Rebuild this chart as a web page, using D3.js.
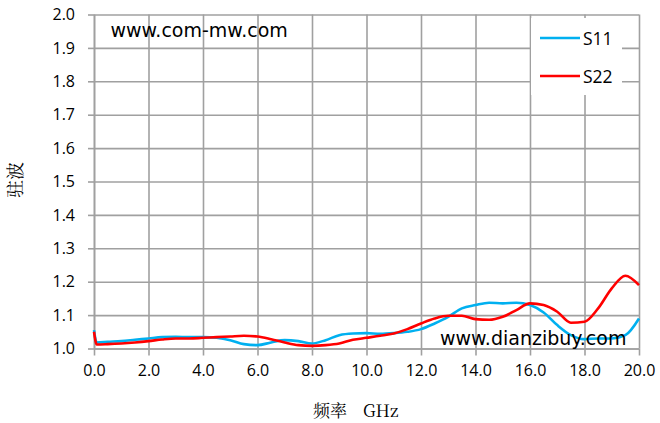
<!DOCTYPE html>
<html>
<head>
<meta charset="utf-8">
<script src="https://cdn.jsdelivr.net/npm/d3@7/dist/d3.min.js"></script>
<style>
  body { margin: 0; background: #fff; }
  svg text { font-family: "Open Sans", sans-serif; }
</style>
</head>
<body>
<svg width="660" height="423"></svg>
<script>
// 驻波 vs 频率
var freq = [0, 0.1, 0.5, 1, 1.5, 2, 2.5, 3, 3.5, 4, 4.5, 5, 5.5, 6, 6.5, 7, 7.5, 8, 8.5, 9, 9.5, 10,
            10.5, 11, 11.5, 12, 12.5, 13, 13.5, 14, 14.5, 15, 15.5, 16, 16.5, 17, 17.5, 18, 18.5, 19, 19.5, 20];
var s11 = [1.055, 1.018, 1.02, 1.022, 1.026, 1.03, 1.034, 1.035, 1.034, 1.034, 1.032, 1.025, 1.013, 1.01, 1.018, 1.025, 1.022, 1.015, 1.025, 1.04, 1.045, 1.046,
           1.044, 1.046, 1.05, 1.058, 1.075, 1.095, 1.12, 1.13, 1.137, 1.135, 1.137, 1.13, 1.108, 1.07, 1.04, 1.028, 1.03, 1.03, 1.04, 1.09];
var s22 = [1.05, 1.012, 1.013, 1.015, 1.018, 1.022, 1.027, 1.03, 1.03, 1.032, 1.034, 1.036, 1.038, 1.036, 1.028, 1.018, 1.01, 1.008, 1.01, 1.015, 1.026, 1.032,
           1.038, 1.045, 1.058, 1.075, 1.09, 1.098, 1.098, 1.088, 1.086, 1.095, 1.115, 1.135, 1.13, 1.11, 1.077, 1.08, 1.12, 1.18, 1.218, 1.19];
var seriesNames = ["S11", "S22"];
var seriesColors = ["#00b0f0", "#ff0000"];
var xTicks = d3.range(0, 20.01, 2);
var yTicks = d3.range(1.0, 2.001, 0.1);

var svg = d3.select("svg"),
    margin = {top: 14.5, right: 21, bottom: 74.5, left: 94},
    width = +svg.attr("width") - margin.left - margin.right,
    height = +svg.attr("height") - margin.top - margin.bottom;

var g = svg.append("g").attr("transform", "translate(" + margin.left + "," + margin.top + ")");

var x = d3.scaleLinear().domain([0, 20]).range([0, width]);
var y = d3.scaleLinear().domain([1, 2]).range([height, 0]);

var gridColor = "#a0a0a0";

// grid lines
g.append("g")
    .attr("transform", "translate(0," + height + ")")
    .call(d3.axisBottom(x).tickValues(xTicks).tickSize(-height).tickFormat(""))
    .call(function (a) { a.select(".domain").remove(); });
g.append("g")
    .call(d3.axisLeft(y).tickValues(yTicks).tickSize(-width).tickFormat(""))
    .call(function (a) { a.select(".domain").remove(); });

// axes with outer ticks
g.append("g")
    .attr("class", "xaxis")
    .attr("transform", "translate(0," + height + ")")
    .call(d3.axisBottom(x).tickValues(xTicks).tickSize(7).tickSizeOuter(0).tickPadding(9).tickFormat(d3.format(".1f")));
g.append("g")
    .attr("class", "yaxis")
    .call(d3.axisLeft(y).tickValues(yTicks).tickSize(6).tickSizeOuter(0).tickPadding(13).tickFormat(d3.format(".1f")));

g.selectAll(".tick line, .domain")
    .attr("stroke", gridColor)
    .attr("stroke-width", 1.6);
g.selectAll(".xaxis text, .yaxis text")
    .attr("fill", "#000")
    .style("font-size", "16px");

// watermarks
g.append("text")
    .attr("x", 110.5 - margin.left).attr("y", 37 - margin.top)
    .style("font-family", "'DejaVu Sans', sans-serif")
    .style("font-size", "19px")
    .text("www.com-mw.com");

// lines
var line = d3.line()
    .x(function (d, i) { return x(freq[i]); })
    .y(function (d) { return y(d); })
    .curve(d3.curveMonotoneX);

[s11, s22].forEach(function (vals, k) {
    g.append("path")
        .datum(vals)
        .attr("fill", "none")
        .attr("stroke", seriesColors[k])
        .attr("stroke-width", 2.6)
        .attr("stroke-linejoin", "round")
        .attr("d", line);
});

g.append("text")
    .attr("x", 440 - margin.left).attr("y", 345 - margin.top)
    .style("font-family", "'DejaVu Sans', sans-serif")
    .style("font-size", "19px")
    .text("www.dianzibuy.com");

// legend
var legend = svg.append("g");
legend.append("rect")
    .attr("x", 531).attr("y", 18).attr("width", 91).attr("height", 77)
    .attr("fill", "#fff");
seriesNames.forEach(function (name, k) {
    var ly = 38 + k * 38;
    legend.append("line")
        .attr("x1", 540).attr("x2", 580).attr("y1", ly).attr("y2", ly)
        .attr("stroke", seriesColors[k]).attr("stroke-width", 2.6);
    legend.append("text")
        .attr("x", 583).attr("y", ly + 7)
        .style("font-size", "17.5px")
        .text(name);
});

// axis titles
var serif = "'Noto Serif CJK SC', 'Noto Sans CJK SC', serif";
svg.append("text")
    .attr("x", 313).attr("y", 417)
    .style("font-family", serif)
    .style("font-size", "17px")
    .text("频率");
svg.append("text")
    .attr("x", 363).attr("y", 417)
    .style("font-family", serif)
    .style("font-size", "17px")
    .text("GHz");
svg.append("text")
    .attr("transform", "translate(22,180) rotate(-90)")
    .attr("text-anchor", "middle")
    .style("font-family", serif)
    .style("font-size", "18px")
    .text("驻波");
</script>
</body>
</html>
